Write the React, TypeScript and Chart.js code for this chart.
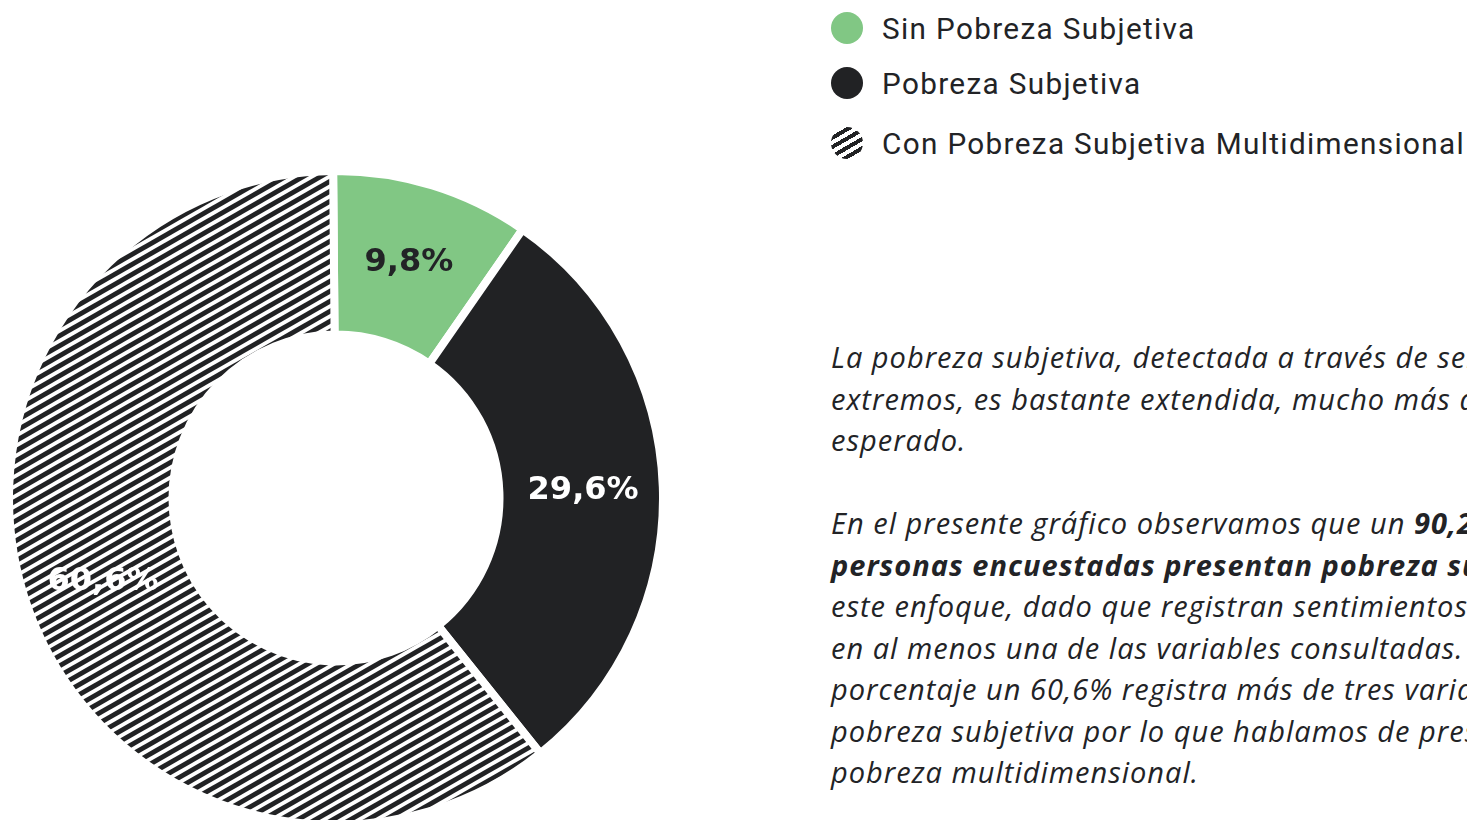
import React, { useEffect, useRef } from "react";
import { Chart, registerables } from "chart.js";
Chart.register(...registerables);

const categories = [
  "Sin Pobreza Subjetiva",
  "Pobreza Subjetiva",
  "Con Pobreza Subjetiva Multidimensional",
];
const values = [9.8, 29.6, 60.6];
const valueLabels = ["9,8%", "29,6%", "60,6%"];
const labelColors = ["#222326", "#ffffff", "#ffffff"];
const GREEN = "#81c784";
const DARK = "#212224";

const paragraph1 = [
  "La pobreza subjetiva, detectada a través de sentimientos",
  "extremos, es bastante extendida, mucho más de lo",
  "esperado.",
];
const paragraph2: { text: string; bold?: boolean }[][] = [
  [{ text: "En el presente gráfico observamos que un " }, { text: "90,2% de las", bold: true }],
  [{ text: "personas encuestadas presentan pobreza subjetiva", bold: true }, { text: " desde" }],
  [{ text: "este enfoque, dado que registran sentimientos extremos" }],
  [{ text: "en al menos una de las variables consultadas. De este" }],
  [{ text: "porcentaje un 60,6% registra más de tres variables de" }],
  [{ text: "pobreza subjetiva por lo que hablamos de presencia de" }],
  [{ text: "pobreza multidimensional." }],
];

function makeHatch(): CanvasPattern | string {
  const c = document.createElement("canvas");
  c.width = 35;
  c.height = 20;
  const g = c.getContext("2d");
  if (!g) return DARK;
  g.fillStyle = "#ffffff";
  g.fillRect(0, 0, 35, 20);
  g.strokeStyle = DARK;
  g.lineWidth = 4.9;
  for (let cc = -30; cc <= 70; cc += 10) {
    g.beginPath();
    g.moveTo(-35, cc + 20);
    g.lineTo(70, cc - 40);
    g.stroke();
  }
  const p = g.createPattern(c, "repeat");
  return p || DARK;
}

const labelPlugin = {
  id: "sliceLabels",
  afterDatasetsDraw(chart: any) {
    const meta = chart.getDatasetMeta(0);
    const ctx = chart.ctx as CanvasRenderingContext2D;
    ctx.save();
    ctx.font = "bold 32px 'DejaVu Sans'";
    ctx.textAlign = "center";
    ctx.textBaseline = "middle";
    meta.data.forEach((arc: any, i: number) => {
      const p = arc.getProps(["x", "y", "startAngle", "endAngle", "innerRadius", "outerRadius"], true);
      const a = (p.startAngle + p.endAngle) / 2;
      const r = (p.innerRadius + p.outerRadius) / 2 + 2;
      ctx.fillStyle = labelColors[i];
      ctx.fillText(valueLabels[i], p.x + Math.cos(a) * r, p.y + Math.sin(a) * r + 1);
    });
    ctx.restore();
  },
};

function DoughnutChart() {
  const ref = useRef<HTMLCanvasElement | null>(null);
  useEffect(() => {
    if (!ref.current) return;
    const chart = new Chart(ref.current, {
      type: "doughnut",
      data: {
        labels: categories,
        datasets: [
          {
            data: values,
            backgroundColor: [GREEN, DARK, makeHatch() as any],
            borderColor: "#ffffff",
            borderWidth: 8,
            hoverOffset: 0,
          },
        ],
      },
      options: {
        responsive: false,
        animation: false,
        cutout: "50%",
        rotation: -0.5,
        layout: { padding: 0 },
        plugins: {
          legend: { display: false },
          tooltip: { enabled: false },
        },
      },
      plugins: [labelPlugin],
    });
    return () => chart.destroy();
  }, []);
  return (
    <canvas
      ref={ref}
      width={662}
      height={662}
      style={{ position: "absolute", left: 5, top: 167, width: 662, height: 662 }}
    />
  );
}

const legendMarkers = [
  { background: GREEN },
  { background: DARK },
  {
    background: `repeating-linear-gradient(150deg, ${DARK} 0px, ${DARK} 4px, #ffffff 4px, #ffffff 8px)`,
  },
];
const legendCenters = [28, 83, 143];

export default function App() {
  return (
    <div
      style={{
        position: "fixed",
        left: 0,
        top: 0,
        width: 1467,
        height: 820,
        overflow: "hidden",
        background: "#ffffff",
      }}
    >
      <DoughnutChart />
      {categories.map((c, i) => (
        <div
          key={c}
          style={{
            position: "absolute",
            left: 831,
            top: legendCenters[i] - 16,
            height: 32,
            display: "flex",
            alignItems: "center",
            whiteSpace: "nowrap",
          }}
        >
          <div
            style={{
              width: 32,
              height: 32,
              borderRadius: "50%",
              ...legendMarkers[i],
            }}
          />
          <span
            style={{
              marginLeft: 19,
              fontFamily: "Roboto",
              fontSize: 29.7,
              letterSpacing: 1.35,
              lineHeight: "32px",
              color: "#222326",
              position: "relative",
              top: 1,
            }}
          >
            {c}
          </span>
        </div>
      ))}
      <div
        style={{
          position: "absolute",
          left: 831,
          top: 336,
          fontFamily: "'Open Sans'",
          fontStyle: "italic",
          fontSize: 29,
          lineHeight: "41.5px",
          letterSpacing: 1.0,
          color: "#222326",
          whiteSpace: "nowrap",
        }}
      >
        {paragraph1.map((l) => (
          <div key={l}>{l}</div>
        ))}
        <div style={{ height: 41.5 }} />
        {paragraph2.map((parts, i) => (
          <div key={i}>
            {parts.map((p, j) => (
              <span key={j} style={{ fontWeight: p.bold ? 700 : 400 }}>
                {p.text}
              </span>
            ))}
          </div>
        ))}
      </div>
    </div>
  );
}
